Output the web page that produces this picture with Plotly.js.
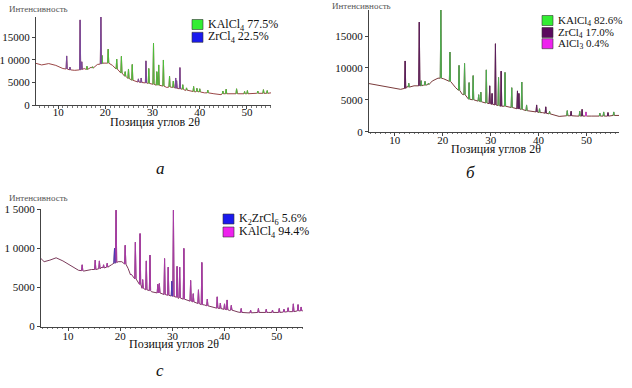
<!DOCTYPE html>
<html><head><meta charset="utf-8">
<script src="https://cdn.plot.ly/plotly-3.0.1.min.js"></script>
<style>html,body{margin:0;padding:0;background:#fff}#chart{width:632px;height:388px}</style>
</head><body><div id="chart"></div>
<script>
// ---------- DATA ----------
// Panel a
const aBgX = [5.3, 6.5, 8.0, 9.5, 11.0, 12.5, 13.5, 15.5, 17.0, 18.3, 19.5, 20.5, 21.5, 22.5, 23.5, 24.5, 25.5, 27.0, 29.0, 31.0, 33.0, 35.0, 37.0, 39.0, 41.0, 43.0, 44.5, 46.0, 48.0, 50.0, 52.0, 54.0, 55.1];
const aBgY = [9250, 8900, 9200, 8800, 8100, 7700, 7700, 8100, 8400, 9000, 9300, 9400, 8800, 7900, 7000, 6200, 5600, 5100, 4700, 4300, 3900, 3500, 3200, 2900, 2700, 2500, 2300, 2500, 2500, 2500, 2600, 2600, 2700];
const aPeakX    = [11.8, 12.5, 14.65, 15.0, 16.1, 17.3, 19.05, 19.3, 20.6, 22.4, 23.4, 24.2, 24.9, 25.7, 27.0, 27.6, 28.6, 29.2, 30.2, 30.9, 31.3, 32.3, 33.6, 34.4, 34.9, 35.1, 35.8, 36.4, 37.2, 38.7, 39.4, 40.0, 41.7, 44.9, 45.6, 47.8, 49.5, 50.1, 52.3, 53.5, 54.3];
const aPeakTop  = [10900, 8400, 18900, 9600, 8600, 8500, 19800, 11000, 12400, 10200, 10800, 7400, 8000, 9000, 5800, 6000, 9800, 8100, 13700, 7400, 8900, 10000, 6400, 5300, 6000, 5400, 8300, 4500, 3800, 4100, 3700, 3600, 3300, 3100, 3500, 3600, 3000, 3200, 3100, 3400, 3200];
const aPeakBase = [8000, 7800, 7800, 7900, 7900, 8200, 9100, 9200, 9300, 8000, 7100, 6400, 5900, 5500, 5100, 5000, 4900, 4800, 4600, 4400, 4400, 4200, 4000, 3900, 3800, 3700, 3600, 3500, 3300, 3000, 3000, 2900, 2700, 2500, 2500, 2500, 2500, 2500, 2600, 2600, 2600];
const aPeakPhase = ['p','p','p','p','g','g','p','g','g','g','g','g','g','g','p','p','p','g','g','g','g','g','g','g','p','p','p','g','g','g','g','g','g','g','g','g','g','g','g','g','g'];
const aLegend = ['KAlCl<sub>4</sub> 77.5%', 'ZrCl<sub>4</sub> 22.5%'];

// Panel б
const bBgX = [4.6, 6.5, 8.5, 10.0, 11.2, 12.5, 14.0, 16.0, 17.8, 19.0, 20.2, 21.3, 22.7, 24.1, 25.5, 27.5, 30.3, 33.8, 37.3, 40.8, 43.0, 44.3, 46.0, 48.0, 51.0, 54.0, 56.8];
const bBgY = [7550, 7300, 7100, 6900, 6650, 7100, 7200, 7300, 7950, 8400, 8300, 7900, 6900, 5850, 5100, 4700, 4300, 3850, 3400, 3000, 2650, 2400, 2500, 2450, 2450, 2450, 2550];
const bPeakX    = [12.15, 12.9, 15.1, 15.5, 16.3, 17.0, 19.6, 21.5, 23.4, 24.55, 25.5, 26.35, 27.5, 27.95, 29.1, 29.8, 30.3, 31.0, 31.65, 32.2, 33.0, 34.4, 35.6, 35.9, 36.5, 37.5, 39.6, 40.2, 41.5, 42.3, 46.0, 46.8, 48.6, 49.1, 49.9, 52.8, 53.6, 54.5, 55.7];
const bPeakTop  = [11100, 7600, 17200, 8000, 7900, 7600, 19100, 12500, 10400, 10700, 7700, 8800, 5800, 6200, 9700, 7200, 6000, 13800, 8500, 9500, 9300, 6900, 6400, 6000, 7800, 4200, 4200, 3600, 3900, 3200, 3300, 3200, 3200, 3500, 3100, 2900, 3100, 3000, 3100];
const bPeakBase = [6800, 7000, 7200, 7200, 7300, 7400, 8400, 7900, 6500, 5800, 5100, 5000, 4800, 4700, 4500, 4400, 4300, 4200, 4100, 4000, 4000, 3800, 3600, 3600, 3500, 3300, 3100, 3000, 2900, 2800, 2500, 2500, 2450, 2450, 2450, 2450, 2450, 2450, 2550];
const bPeakPhase = ['z','g','z','g','g','g','g','g','g','g','g','g','g','g','g','z','z','z','g','z','g','g','z','z','g','g','z','g','z','g','g','z','g','z','m','g','g','z','g'];
const bLegend = ['KAlCl<sub>4</sub> 82.6%', 'ZrCl<sub>4</sub> 17.0%', 'AlCl<sub>3</sub> 0.4%'];

// Panel c
const cBgX = [4.8, 5.4, 6.5, 7.7, 9.0, 10.2, 11.2, 12.0, 13.0, 14.5, 16.5, 18.3, 19.6, 20.3, 21.5, 22.8, 24.1, 26.0, 28.6, 31.1, 33.7, 36.2, 38.8, 41.0, 42.6, 44.5, 46.5, 48.5, 50.3, 52.5, 55.0];
const cBgY = [8700, 8300, 8500, 8800, 8400, 7900, 7450, 7200, 7100, 7300, 7600, 7900, 8300, 8300, 7450, 6150, 4900, 4450, 4050, 3600, 3200, 2750, 2350, 2050, 1850, 1750, 1800, 1800, 1800, 1900, 2000];
const cPeakX    = [12.7, 15.2, 16.0, 16.8, 17.5, 18.9, 19.2, 20.95, 22.1, 22.9, 23.8, 24.3, 25.0, 25.7, 27.2, 27.5, 28.5, 29.2, 29.9, 30.2, 30.9, 31.4, 32.2, 33.5, 34.0, 35.0, 35.65, 36.7, 38.6, 39.2, 40.0, 40.5, 41.3, 43.2, 45.0, 46.5, 48.0, 49.2, 50.5, 51.4, 52.2, 53.2, 54.1, 54.7];
const cPeakTop  = [7900, 8500, 8400, 7900, 8100, 10000, 14900, 10400, 6700, 10800, 11900, 6000, 8400, 9150, 5400, 5500, 8700, 7600, 5800, 14900, 7700, 7600, 10000, 5900, 4200, 4700, 8200, 3500, 3800, 3000, 2900, 3400, 2700, 2300, 2100, 2300, 2200, 2100, 2300, 2200, 2400, 2900, 2800, 2500];
const cPeakBase = [7150, 7300, 7400, 7500, 7600, 8100, 8200, 8000, 6600, 6100, 5400, 4900, 4700, 4600, 4300, 4300, 4100, 4000, 3900, 3850, 3750, 3650, 3500, 3250, 3150, 2950, 2800, 2650, 2350, 2300, 2200, 2150, 2100, 1800, 1750, 1800, 1800, 1800, 1800, 1850, 1900, 1900, 2000, 2000];
const cPeakPhase = ['m','m','m','m','m','k','m','m','m','m','m','m','m','m','m','m','m','m','k','m','m','m','m','m','m','m','m','m','m','m','m','m','m','m','m','m','m','m','m','m','m','m','m','m'];
const cLegend = ['K<sub>2</sub>ZrCl<sub>6</sub> 5.6%', 'KAlCl<sub>4</sub> 94.4%'];

const xTicks = [10, 20, 30, 40, 50];
const yTicks = [0, 5000, 10000, 15000];
const aYTickText = ['0', '5000', '1 0000', '15000'];
const bYTickText = ['0', '5000', '10000', '15000'];
const cYTickText = ['0', '5000', '1 0000', '1 5000'];
const yTitle = 'Интенсивность';
const xTitle = 'Позиция углов 2θ';
const panelLabels = ['а', 'б', 'c'];

// ---------- BUILD ----------
const HW = 0.12;
function fullPattern(bgX, bgY, pX, pTop, pBase) {
  const pts = [];
  bgX.forEach((x, i) => {
    const inside = pX.some(p => x > p - HW - 0.02 && x < p + HW + 0.02);
    if (!inside) pts.push([x, bgY[i]]);
  });
  pX.forEach((x, i) => {
    pts.push([x - HW, pBase[i]]); pts.push([x, pTop[i]]); pts.push([x + HW, pBase[i]]);
  });
  pts.sort((a, b) => a[0] - b[0]);
  return {x: pts.map(p => p[0]), y: pts.map(p => p[1])};
}
function phasePeaks(pX, pTop, pBase, pPhase, ph) {
  const x = [], y = [];
  pX.forEach((px, i) => {
    if (pPhase[i] !== ph) return;
    x.push(px - HW, px, px + HW, null);
    y.push(pBase[i], pTop[i], pBase[i], null);
  });
  return {x, y};
}

const traces = [];
function addPanel(bgX, bgY, pX, pTop, pBase, pPhase, xa, ya, baseColor, phaseColors) {
  const f = fullPattern(bgX, bgY, pX, pTop, pBase);
  traces.push({type: 'scatter', mode: 'lines', x: f.x, y: f.y, xaxis: xa, yaxis: ya,
    line: {color: baseColor, width: 1}, hoverinfo: 'skip'});
  Object.keys(phaseColors).forEach(ph => {
    const t = phasePeaks(pX, pTop, pBase, pPhase, ph);
    traces.push({type: 'scatter', mode: 'lines', x: t.x, y: t.y, xaxis: xa, yaxis: ya,
      connectgaps: false, line: {color: phaseColors[ph], width: 1}, hoverinfo: 'skip'});
  });
}
addPanel(aBgX, aBgY, aPeakX, aPeakTop, aPeakBase, aPeakPhase, 'x', 'y', '#9a4646', {g: '#4cbf3a', p: '#7a4a9e'});
addPanel(bBgX, bBgY, bPeakX, bPeakTop, bPeakBase, bPeakPhase, 'x2', 'y2', '#7a3b3b', {g: '#4caf50', z: '#5a1f5e', m: '#d040d0'});
addPanel(cBgX, cBgY, cPeakX, cPeakTop, cPeakBase, cPeakPhase, 'x3', 'y3', '#7a3a5a', {m: '#a83aa8', k: '#4a3ab8'});

const W = 632, H = 388;
const PX = v => v / W, PY = v => 1 - v / H;
const serif = 'Liberation Serif, Times New Roman, serif';
function xax(l, r, range, anchor, standoff) {
  return {domain: [PX(l), PX(r)], range: range, anchor: anchor, tickvals: xTicks,
    showline: true, linecolor: '#444', linewidth: 1, ticks: 'outside', ticklen: 3, tickcolor: '#444',
    ticklabelstandoff: standoff,
    showgrid: false, zeroline: false, tickfont: {family: serif, size: 11, color: '#111'},
    minor: {dtick: 1, ticks: 'outside', ticklen: 1.5, tickcolor: '#777', showgrid: false}};
}
function yax(b, t, range, anchor, txt) {
  return {domain: [PY(b), PY(t)], range: range, anchor: anchor, tickvals: yTicks, ticktext: txt,
    showline: true, linecolor: '#444', linewidth: 1, ticks: 'outside', ticklen: 3, tickcolor: '#444',
    showgrid: false, zeroline: false, tickfont: {family: serif, size: 11, color: '#111'}};
}

const annotations = [], shapes = [];
function txt(x, y, text, size, opts) {
  annotations.push(Object.assign({xref: 'paper', yref: 'paper', x: PX(x), y: PY(y), text: text,
    showarrow: false, xanchor: 'left', yanchor: 'middle', font: {family: serif, size: size, color: '#111'}}, opts || {}));
}
function legend(x, ys, colors, labels, size) {
  ys.forEach((y, i) => {
    shapes.push({type: 'rect', xref: 'paper', yref: 'paper', x0: PX(x), x1: PX(x + 11), y0: PY(y + 5), y1: PY(y - 5),
      fillcolor: colors[i], line: {color: '#333', width: 0.6}});
    txt(x + 14, y, labels[i], size);
  });
}
// axis titles
txt(7, 9, yTitle, 9, {font: {family: serif, size: 9, color: '#555'}});
txt(330, 6, yTitle, 9, {font: {family: serif, size: 9, color: '#555'}});
txt(7, 198, yTitle, 9, {font: {family: serif, size: 9, color: '#555'}});
txt(155, 122, xTitle, 12, {xanchor: 'center'});
txt(496, 149, xTitle, 12, {xanchor: 'center'});
txt(174, 344, xTitle, 12, {xanchor: 'center'});
// panel letters
txt(160, 168, panelLabels[0], 17, {xanchor: 'center', font: {family: serif, size: 17, color: '#111', style: 'italic'}});
txt(470, 172, panelLabels[1], 17, {xanchor: 'center', font: {family: serif, size: 17, color: '#111', style: 'italic'}});
txt(160, 370, panelLabels[2], 17, {xanchor: 'center', font: {family: serif, size: 17, color: '#111', style: 'italic'}});
// legends
legend(192, [24.5, 37.3], ['#33ee33', '#1a1aee'], aLegend, 12);
legend(542, [20.5, 32.5, 43.7], ['#33ee33', '#5a0a5e', '#ee22ee'], bLegend, 11);
legend(223, [219, 232], ['#1a1aee', '#ee22ee'], cLegend, 12);

const layout = {
  width: W, height: H, margin: {l: 0, r: 0, t: 0, b: 0},
  paper_bgcolor: '#fff', plot_bgcolor: 'rgba(0,0,0,0)', showlegend: false,
  xaxis: xax(36, 271, [5.3, 55.1], 'y', -6),
  yaxis: yax(105, 17, [0, 19550], 'x', aYTickText),
  xaxis2: xax(369, 619, [4.6, 56.8], 'y2', -5),
  yaxis2: yax(131.7, 10, [0, 19100], 'x2', bYTickText),
  xaxis3: xax(41, 303, [4.8, 55.05], 'y3', -4),
  yaxis3: yax(326.5, 209, [0, 15050], 'x3', cYTickText),
  annotations: annotations, shapes: shapes
};
Plotly.newPlot('chart', traces, layout, {displayModeBar: false, staticPlot: true});
</script></body></html>
